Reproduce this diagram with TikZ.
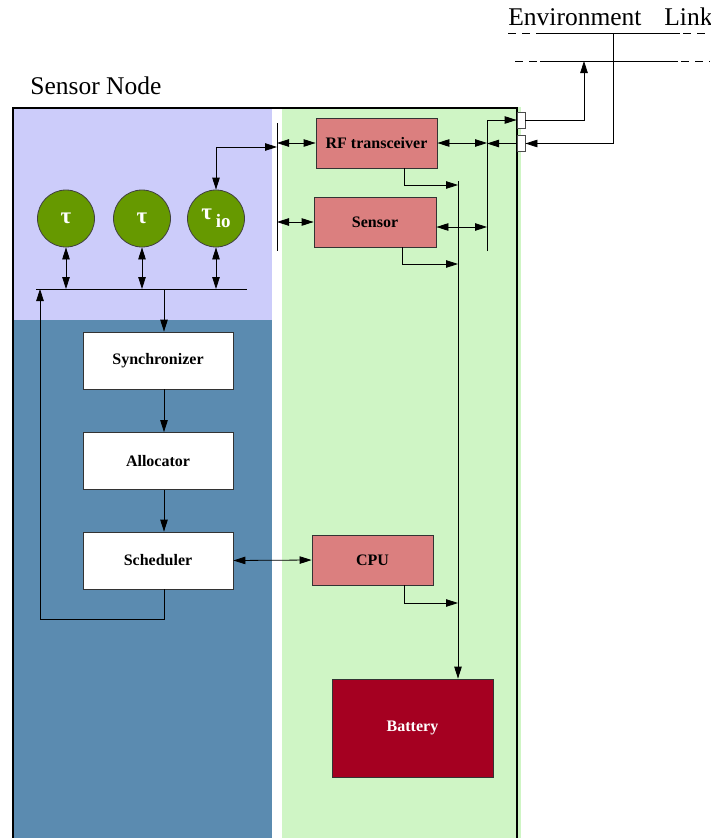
\documentclass[tikz,border=0pt]{standalone}
\usepackage{fontspec}
\setmainfont{Liberation Serif}
\usetikzlibrary{arrows.meta}

\definecolor{procbg}{HTML}{CCCCFA}
\definecolor{osbg}{HTML}{5B8BB0}
\definecolor{hwbg}{HTML}{CFF5C5}
\definecolor{hwbox}{HTML}{DB7F7F}
\definecolor{battfill}{HTML}{A50021}
\definecolor{taskfill}{HTML}{669900}

\begin{document}
\begin{tikzpicture}[x=1pt,y=-1pt,
  >={Triangle[length=12pt,width=7.5pt]},
  every path/.style={line width=0.8pt},
  osbox/.style={draw=black!80, fill=white, minimum width=150pt, minimum height=57pt,
    inner sep=0pt, font=\fontsize{16}{18}\selectfont\bfseries},
  hwblock/.style={draw=black!80, fill=hwbox, minimum width=121pt, minimum height=50pt,
    inner sep=0pt, font=\fontsize{16}{18}\selectfont\bfseries},
  tasknode/.style={circle, draw=black!75, fill=taskfill, minimum size=57pt, inner sep=0pt,
    text=white, font=\fontsize{23}{24}\selectfont\bfseries},
  port/.style={draw=black!70, fill=white, minimum width=8pt, minimum height=16pt, inner sep=0pt},
  bigtext/.style={font=\fontsize{25.5}{30}\selectfont, inner sep=0pt},
  envdash/.style={dash pattern=on 8pt off 6pt}
]
\useasboundingbox (0,0) rectangle (710,838);

% regions of the sensor node
\fill[procbg] (13,108) rectangle (272,320);
\fill[osbg] (13,320) rectangle (272,838);
\fill[hwbg] (282,107) rectangle (521,838);
\draw[line width=1.4pt] (13,838) -- (13,108) -- (517,108) -- (517,838);

% titles
\node[bigtext, anchor=base west] (title) at (30,94) {Sensor Node};
\node[bigtext, anchor=base west] (env) at (508,25) {Environment};
\node[bigtext, anchor=base west] (link) at (664,25) {Link};

% environment / link lines
\draw[envdash] (508,33) -- (540,33);
\draw (540,33) -- (680,33);
\draw[envdash] (683,33) -- (710,33);
\draw[envdash] (515,61) -- (540,61);
\draw (540,61) -- (678,61);
\draw[envdash] (681,61) -- (710,61);

% I/O ports
\node[port] (pout) at (521,120) {};
\node[port] (pin) at (521,143.5) {};
\coordinate (envup) at (584,61);
\coordinate (envdown) at (613,33);
\draw[->] (pout.east) -| (envup);
\draw[->] (envdown) |- (pin.east);

% hardware buses
\coordinate (rtop) at (487,121);
\coordinate (rbot) at (487,251);
\coordinate (ltop) at (277,123);
\coordinate (lbot) at (277,251);
\coordinate (pwr) at (458,181);
\draw (ltop) -- (lbot);
\draw[->] (rbot) |- (pout.west);
\draw[->] (pin.west) -- (pin.west -| rbot);

% hardware blocks
\node[hwblock] (rf) at (376.5,143) {RF transceiver};
\node[hwblock, minimum width=122pt] (sensor) at (375,222) {Sensor};
\node[hwblock] (cpu) at (372.5,560) {CPU};
\node[draw=black!80, fill=battfill, minimum width=161pt, minimum height=98pt, inner sep=0pt,
  text=white, font=\fontsize{16}{18}\selectfont\bfseries] (bat) at (412.5,728) {Battery};

\draw[<->] (rf.east) -- (rf.east -| rbot);
\draw[<->] (ltop |- rf.west) -- (rf.west);
\draw[<->] (ltop |- sensor.west) -- (sensor.west);
\draw[<->] ([yshift=-5pt]sensor.east) -- ([yshift=-5pt]sensor.east -| rbot);

% power distribution
\draw[->] (pwr) -- (pwr |- bat.north);
\coordinate (rfp) at (404,185);
\coordinate (snp) at (402,264);
\coordinate (cpp) at (404,603);
\draw[->] (rf.south -| rfp) |- (rfp -| pwr);
\draw[->] (sensor.south -| snp) |- (snp -| pwr);
\draw[->] (cpu.south -| cpp) |- (cpp -| pwr);

% tasks
\node[tasknode] (t1) at (66,218.5) {τ};
\node[tasknode] (t2) at (142,218.5) {τ};
\node[tasknode] (tio) at (216,218.5) {τ\,\raisebox{-8pt}{\fontsize{19}{19}\selectfont io}};
\coordinate (tiolink) at (277,147);
\draw[<->] (tio.north) |- (tiolink);

% task bus
\coordinate (busL) at (36,289);
\coordinate (busR) at (247,289);
\coordinate (busT) at (164,289);
\draw (busL) -- (busR);
\draw[<->] (t1.south) -- (t1.south |- busL);
\draw[<->] (t2.south) -- (t2.south |- busL);
\draw[<->] (tio.south) -- (tio.south |- busL);

% OS components
\node[osbox] (sync) at (158,360.5) {Synchronizer};
\node[osbox] (alloc) at (158,461) {Allocator};
\node[osbox] (sched) at (158,560.5) {Scheduler};
\draw[->] (busT) -- (busT |- sync.north);
\draw[->] (sync.south -| busT) -- (alloc.north -| busT);
\draw[->] (alloc.south -| busT) -- (sched.north -| busT);
\coordinate (fbk) at (40,619);
\draw[->] (sched.south -| busT) -- (busT |- fbk) -- (fbk) -- (fbk |- busL);
\draw[<->] (sched.east) -- (cpu.west);
\end{tikzpicture}
\end{document}
